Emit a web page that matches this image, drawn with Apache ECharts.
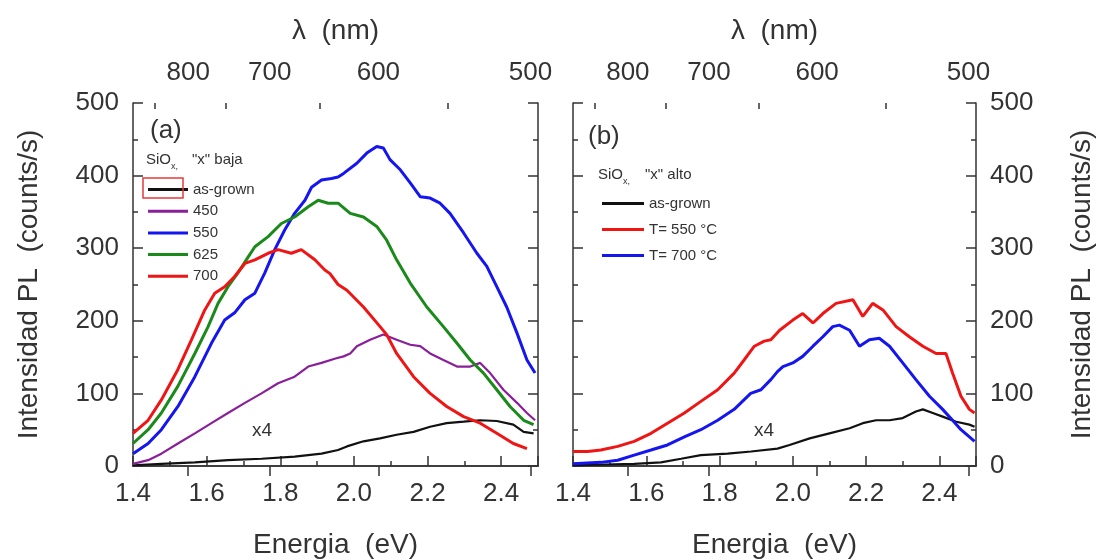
<!DOCTYPE html>
<html><head><meta charset="utf-8">
<script src="https://cdn.jsdelivr.net/npm/echarts@6/dist/echarts.min.js"></script>
<style>html,body{margin:0;padding:0;background:#fff}#c{width:1104px;height:560px}</style>
</head><body><div id="c"></div>
<script>
// ---------- data ----------
const wavelengthLabels = [800, 700, 600, 500];
const wavelengthMinorTicks = [850, 750, 650, 550];
const legendA = ['as-grown', '450', '550', '625', '700'];
const legendB = ['as-grown', 'T= 550 °C', 'T= 700 °C'];

// Panel (a): SiOx "x" baja
const aAsGrown = [[1.40,1],[1.477,3],[1.568,5],[1.658,8],[1.749,10],[1.839,13],[1.912,17],[1.957,22],[1.981,27],[2.026,34],[2.071,38],[2.116,43],[2.162,47],[2.207,54],[2.252,59],[2.298,61],[2.343,63],[2.388,62],[2.433,57],[2.461,47],[2.488,45]];
const a450 = [[1.40,3],[1.441,8],[1.477,17],[1.522,31],[1.568,45],[1.613,59],[1.658,73],[1.704,87],[1.749,100],[1.794,114],[1.839,123],[1.876,137],[1.912,142],[1.950,148],[1.972,151],[1.990,155],[2.008,165],[2.044,174],[2.080,181],[2.116,174],[2.153,167],[2.180,165],[2.207,155],[2.243,146],[2.280,137],[2.316,137],[2.343,142],[2.370,128],[2.406,105],[2.443,87],[2.470,73],[2.492,63]];
const a550 = [[1.40,17],[1.441,31],[1.477,50],[1.522,82],[1.568,123],[1.613,169],[1.649,201],[1.676,211],[1.704,229],[1.731,238],[1.758,266],[1.785,298],[1.812,325],[1.839,348],[1.867,366],[1.885,384],[1.912,394],[1.939,396],[1.957,398],[1.972,403],[2.008,417],[2.035,431],[2.062,440],[2.080,438],[2.098,422],[2.126,408],[2.153,390],[2.180,371],[2.207,369],[2.234,362],[2.261,348],[2.298,321],[2.334,293],[2.361,275],[2.388,247],[2.415,219],[2.443,183],[2.470,146],[2.492,128]];
const a625 = [[1.40,31],[1.441,50],[1.477,73],[1.522,110],[1.568,155],[1.604,192],[1.631,224],[1.658,247],[1.685,266],[1.713,288],[1.731,302],[1.767,316],[1.803,334],[1.839,343],[1.876,357],[1.903,366],[1.930,362],[1.957,362],[1.990,348],[2.026,343],[2.062,330],[2.089,311],[2.116,284],[2.153,252],[2.198,219],[2.243,192],[2.280,169],[2.316,146],[2.352,128],[2.388,105],[2.424,82],[2.461,63],[2.488,57]];
const a700 = [[1.40,45],[1.441,63],[1.477,91],[1.522,133],[1.559,174],[1.595,215],[1.622,238],[1.649,247],[1.676,261],[1.704,279],[1.731,284],[1.767,293],[1.794,298],[1.830,293],[1.857,298],[1.894,284],[1.921,270],[1.935,265],[1.957,250],[1.981,242],[2.026,219],[2.071,192],[2.089,181],[2.116,155],[2.162,123],[2.207,100],[2.252,82],[2.298,68],[2.343,59],[2.388,45],[2.433,31],[2.470,24]];

// Panel (b): SiOx "x" alto
const bAsGrown = [[1.40,1],[1.567,3],[1.640,5],[1.695,10],[1.749,15],[1.822,17],[1.886,20],[1.958,24],[1.991,29],[2.046,38],[2.100,45],[2.155,52],[2.191,59],[2.227,63],[2.264,63],[2.300,66],[2.336,75],[2.355,78],[2.382,73],[2.409,68],[2.446,61],[2.482,57],[2.496,54]];
const b550 = [[1.40,20],[1.440,20],[1.476,22],[1.522,27],[1.567,34],[1.613,45],[1.658,59],[1.704,73],[1.749,89],[1.795,105],[1.840,128],[1.867,146],[1.895,165],[1.922,172],[1.940,174],[1.964,187],[2.000,201],[2.027,210],[2.055,197],[2.082,210],[2.118,224],[2.164,229],[2.191,206],[2.218,224],[2.246,215],[2.282,192],[2.318,178],[2.355,165],[2.391,155],[2.418,155],[2.436,128],[2.459,96],[2.482,78],[2.496,73]];
const b700 = [[1.40,3],[1.476,5],[1.522,8],[1.567,15],[1.613,22],[1.658,29],[1.704,40],[1.749,50],[1.795,63],[1.840,78],[1.885,100],[1.913,105],[1.940,119],[1.958,130],[1.973,137],[2.000,142],[2.027,151],[2.055,165],[2.082,178],[2.109,192],[2.127,194],[2.155,187],[2.182,165],[2.209,174],[2.236,176],[2.264,165],[2.300,142],[2.336,119],[2.373,96],[2.409,78],[2.436,63],[2.459,50],[2.482,40],[2.496,34]];

// ---------- chart ----------
const HC = 1239.84;
const toE = nm => HC / nm;
const FONT = "'Liberation Sans', Arial, sans-serif";
const TXT = '#333';
const LINE = { color: '#333', width: 1.5 };

function bottomAxis(g) {
  return { gridIndex: g, type: 'value', position: 'bottom', min: 1.4, max: 2.5, interval: 0.2,
    axisLine: { show: true, lineStyle: LINE }, splitLine: { show: false },
    axisTick: { show: true, inside: true, length: 10, lineStyle: LINE },
    minorTick: { show: true, splitNumber: 2, length: 5, lineStyle: LINE },
    axisLabel: { fontSize: 26, fontFamily: FONT, color: TXT, margin: 15, showMaxLabel: false, formatter: v => v.toFixed(1) },
    name: 'Energia  (eV)', nameLocation: 'middle', nameGap: 65,
    nameTextStyle: { fontSize: 28, fontFamily: FONT, color: TXT } };
}
function topAxis(g) {
  const vals = wavelengthLabels.map(toE);
  return { gridIndex: g, type: 'value', position: 'top', min: 1.4, max: 2.5,
    axisLine: { show: true, lineStyle: LINE }, splitLine: { show: false },
    axisTick: { show: true, inside: true, length: 10, lineStyle: LINE, customValues: vals },
    axisLabel: { fontSize: 26, fontFamily: FONT, color: TXT, margin: 17, customValues: vals, formatter: v => String(Math.round(HC / v)) },
    name: 'λ  (nm)', nameLocation: 'middle', nameGap: 58,
    nameTextStyle: { fontSize: 28, fontFamily: FONT, color: TXT } };
}
function topMinorAxis(g) {
  const vals = wavelengthMinorTicks.map(toE);
  return { gridIndex: g, type: 'value', position: 'top', min: 1.4, max: 2.5,
    axisLine: { show: false }, splitLine: { show: false },
    axisTick: { show: true, inside: true, length: 6, lineStyle: LINE, customValues: vals },
    axisLabel: { show: false } };
}
function yAxisDef(g, pos, labels) {
  const a = { gridIndex: g, type: 'value', position: pos, min: 0, max: 500, interval: 100,
    axisLine: { show: true, lineStyle: LINE }, splitLine: { show: false },
    axisTick: { show: true, inside: true, length: 10, lineStyle: LINE },
    minorTick: { show: true, splitNumber: 2, length: 5, lineStyle: LINE },
    axisLabel: { show: labels, fontSize: 26, fontFamily: FONT, color: TXT, margin: 14 } };
  if (labels) {
    a.name = 'Intensidad PL  (counts/s)';
    a.nameLocation = 'middle';
    a.nameRotate = 90;
    a.nameGap = pos === 'left' ? 90 : 92;
    a.nameTextStyle = { fontSize: 28, fontFamily: FONT, color: TXT };
  }
  return a;
}
function line(name, data, xi, yi, color, w) {
  return { name, type: 'line', data, xAxisIndex: xi, yAxisIndex: yi, symbol: 'none', showSymbol: false,
    silent: true, lineStyle: { color, width: w }, itemStyle: { color } };
}

const chart = echarts.init(document.getElementById('c'), null, { renderer: 'canvas' });
chart.setOption({
  animation: false,
  backgroundColor: '#fff',
  grid: [
    { left: 133, top: 103, width: 405, height: 363, containLabel: false, outerBoundsMode: 'none' },
    { left: 573, top: 103, width: 403, height: 363, containLabel: false, outerBoundsMode: 'none' }
  ],
  xAxis: [bottomAxis(0), topAxis(0), topMinorAxis(0), bottomAxis(1), topAxis(1), topMinorAxis(1)],
  yAxis: [yAxisDef(0, 'left', true), yAxisDef(0, 'right', false), yAxisDef(1, 'left', false), yAxisDef(1, 'right', true)],
  legend: [
    { data: legendA, orient: 'vertical', left: 143, top: 177, icon: 'rect', itemWidth: 40, itemHeight: 3, itemGap: 6.7,
      selectedMode: false, textStyle: { fontSize: 15, fontFamily: FONT, color: TXT } },
    { data: legendB, orient: 'vertical', left: 597, top: 191, icon: 'rect', itemWidth: 42, itemHeight: 3, itemGap: 11,
      selectedMode: false, textStyle: { fontSize: 15, fontFamily: FONT, color: TXT } }
  ],
  series: [
    line(legendA[0], aAsGrown, 0, 0, '#111', 2.2),
    line(legendA[1], a450, 0, 0, '#8a1f9a', 2.2),
    line(legendA[2], a550, 0, 0, '#1515f0', 3),
    line(legendA[3], a625, 0, 0, '#1a8a1a', 3),
    line(legendA[4], a700, 0, 0, '#f01515', 3),
    line(legendB[0], bAsGrown, 3, 3, '#111', 2.2),
    line(legendB[1], b550, 3, 3, '#f01515', 3),
    line(legendB[2], b700, 3, 3, '#1515f0', 3)
  ],
  graphic: [
    { type: 'text', left: 150, top: 118, style: { text: '(a)', fontSize: 26, fontFamily: FONT, fill: TXT } },
    { type: 'text', left: 588, top: 124, style: { text: '(b)', fontSize: 26, fontFamily: FONT, fill: TXT } },
    { type: 'text', left: 146, top: 152, style: { text: 'SiO', fontSize: 15, fontFamily: FONT, fill: TXT } },
    { type: 'text', left: 171, top: 162, style: { text: 'x,', fontSize: 9, fontFamily: FONT, fill: TXT } },
    { type: 'text', left: 192, top: 152, style: { text: '"x" baja', fontSize: 15, fontFamily: FONT, fill: TXT } },
    { type: 'text', left: 598, top: 167, style: { text: 'SiO', fontSize: 15, fontFamily: FONT, fill: TXT } },
    { type: 'text', left: 623, top: 177, style: { text: 'x,', fontSize: 9, fontFamily: FONT, fill: TXT } },
    { type: 'text', left: 645, top: 167, style: { text: '"x" alto', fontSize: 15, fontFamily: FONT, fill: TXT } },
    { type: 'text', left: 252, top: 421, style: { text: 'x4', fontSize: 19, fontFamily: FONT, fill: TXT } },
    { type: 'text', left: 754, top: 421, style: { text: 'x4', fontSize: 19, fontFamily: FONT, fill: TXT } },
    { type: 'rect', shape: { x: 143, y: 178, width: 40, height: 20 }, style: { fill: 'none', stroke: '#e83a3a', lineWidth: 1.5 }, z: 100 }
  ]
});
</script>
</body></html>
